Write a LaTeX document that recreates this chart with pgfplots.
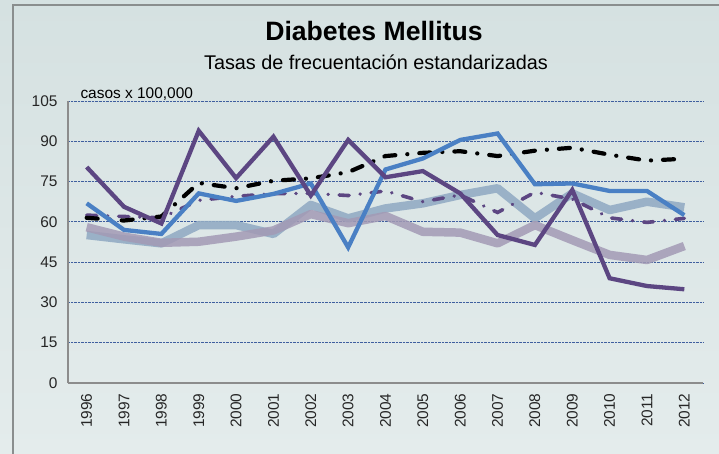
\documentclass[border=0pt]{standalone}
\usepackage{pgfplots}
\pgfplotsset{compat=1.18}
\usepackage{fontspec}
\setmainfont{Liberation Sans}
\definecolor{bgtop}{HTML}{D5E1E1}
\definecolor{bgbot}{HTML}{E4ECEC}
\definecolor{framegray}{HTML}{8A8E8E}
\definecolor{axisgray}{HTML}{8C8C8C}
\definecolor{gridblue}{HTML}{3F5F9F}
\definecolor{dpurple}{HTML}{5C4682}
\definecolor{mblue}{HTML}{4A80C4}
\definecolor{sblue}{HTML}{93ACC4}
\definecolor{lpurple}{HTML}{A39AB5}
\begin{document}
\begin{tikzpicture}
\useasboundingbox (0bp,0bp) rectangle (719bp,454bp);
\shade[top color=bgtop,bottom color=bgbot] (0bp,0bp) rectangle (719bp,454bp);
\draw[line width=2.2bp, framegray] (13bp,0bp) -- (13bp,449bp) -- (721bp,449bp);
\node[font=\bfseries\fontsize{26.7}{30}\selectfont, anchor=base] at (374bp,413bp) {Diabetes Mellitus};
\node[font=\fontsize{19.9}{22}\selectfont, anchor=base] at (376bp,384bp) {Tasas de frecuentación estandarizadas};
\begin{axis}[
  at={(68bp,71bp)}, anchor=south west,
  width=635bp, height=282bp, scale only axis,
  xmin=-0.5, xmax=16.5, ymin=0, ymax=105,
  ytick={0,15,...,105},
  xtick={0,...,16},
  xticklabels={1996,1997,1998,1999,2000,2001,2002,2003,2004,2005,2006,2007,2008,2009,2010,2011,2012},
  major tick length=0pt,
  ymajorgrids,
  grid style={densely dotted, gridblue, line width=0.9bp},
  separate axis lines,
  axis x line*=bottom, axis y line*=left,
  axis line style={-, axisgray, line width=2bp},
  tick label style={font=\fontsize{15.5}{18}\selectfont, text=black!85},
  /pgf/number format/assume math mode=true,
  xticklabel style={rotate=90, anchor=east},
  xticklabel shift=7bp,
  yticklabel shift=7bp,
  clip=false,
]
\addplot[sblue, opacity=0.9, line width=8.5bp, line join=round] coordinates {
(0,55.1)(1,53.5)(2,52)(3,58.8)(4,58.8)(5,55.5)(6,66.3)(7,61.3)(8,65)(9,66.9)(10,70)(11,72.5)(12,61.3)(13,70.6)(14,64.4)(15,67.5)(16,65.4)};
\addplot[lpurple, opacity=0.85, line width=8.5bp, line join=round] coordinates {
(0,58)(1,54.5)(2,52.2)(3,52.6)(4,54.5)(5,56.8)(6,62.9)(7,59.5)(8,62.2)(9,56.3)(10,56)(11,52)(12,58.8)(13,53.2)(14,47.7)(15,45.8)(16,51)};
\addplot[dpurple, line width=3.6bp, line cap=round, dash pattern=on 10bp off 11bp on 0.1bp off 11bp] coordinates {
(0,62.5)(1,62)(2,61.5)(3,68)(4,69.5)(5,70.5)(6,70.6)(7,69.8)(8,71.5)(9,67.5)(10,70)(11,63.5)(12,71)(13,68.5)(14,61.5)(15,59.8)(16,61.3)};
\addplot[black, line width=4.2bp, line cap=round, dash pattern=on 11bp off 12bp on 0.1bp off 12bp] coordinates {
(0,61.5)(1,60.5)(2,62)(3,74.5)(4,72.5)(5,75.3)(6,76.2)(7,78.5)(8,84.5)(9,85.7)(10,86.3)(11,84.5)(12,86.5)(13,87.6)(14,85)(15,82.8)(16,83.5)};
\addplot[mblue, line width=4.3bp] coordinates {
(0,66.9)(1,57)(2,55.5)(3,70.6)(4,67.8)(5,70.4)(6,74.3)(7,50.5)(8,79.5)(9,83.6)(10,90.5)(11,92.9)(12,74)(13,74.3)(14,71.5)(15,71.5)(16,62.5)};
\addplot[dpurple, line width=4.3bp] coordinates {
(0,80.4)(1,65.6)(2,59.4)(3,93.9)(4,76.3)(5,91.7)(6,69.8)(7,90.5)(8,76.6)(9,78.9)(10,70.6)(11,55.1)(12,51.4)(13,71.9)(14,39)(15,36.1)(16,34.9)};
\end{axis}
\node[font=\fontsize{15.5}{17}\selectfont, anchor=base west] at (77bp,355bp) {casos x 100,000};
\end{tikzpicture}
\end{document}
